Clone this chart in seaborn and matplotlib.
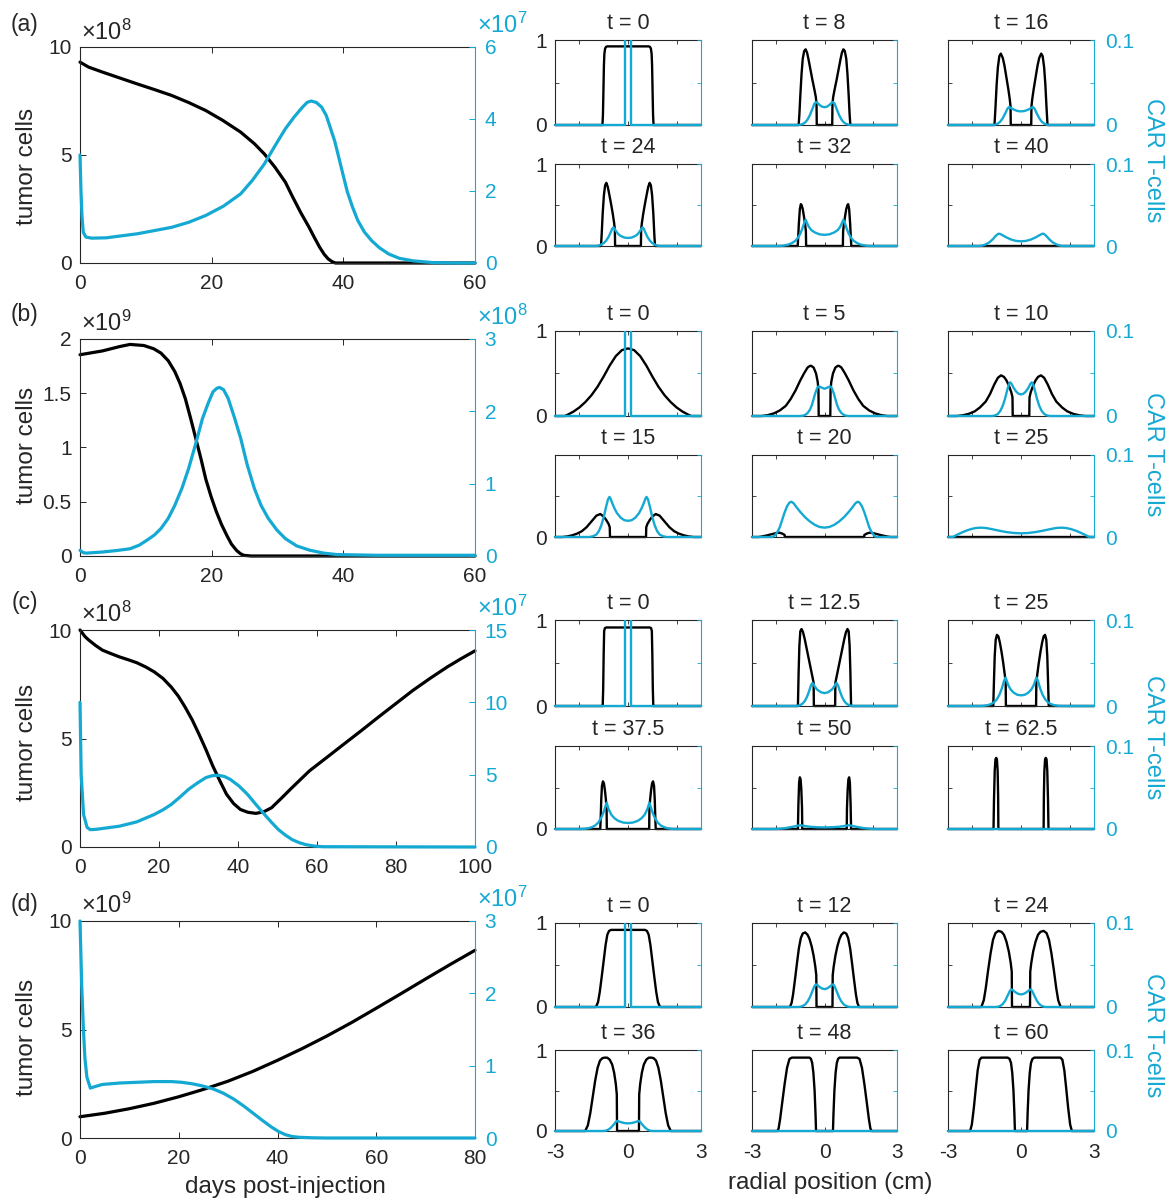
import seaborn as sns
import matplotlib
matplotlib.use('Agg')
import matplotlib.pyplot as plt
from matplotlib.transforms import Bbox, TransformedBbox

# ---------------- left column: totals over time (values in axis units) ----------------
# (a)  tumor x1e8, CAR T x1e7
days_tumor_a = [0, 1.3, 3.4, 6, 8.6, 11.2, 13.9, 16.5, 19.1, 21.7, 24.4, 26.5, 28, 29.6, 31.2, 32.2, 33.5, 34.8,
                35.6, 36.4, 37.1, 37.7, 38.3, 38.8, 60]
tumor_a = [9.30, 9.07, 8.84, 8.57, 8.30, 8.04, 7.76, 7.43, 7.06, 6.60, 6.06, 5.52, 5.05, 4.44, 3.74, 3.12, 2.35,
           1.65, 1.18, 0.73, 0.40, 0.19, 0.06, 0, 0]
days_car_a = [0, 0.15, 0.3, 0.5, 0.9, 1.8, 4, 8.65, 13.9, 16.5, 19.1, 21.8, 24.4, 26.2, 28.0, 29.6, 31.2, 32.5,
              33.8, 34.5, 35.1, 35.9, 36.7, 37.4, 38.0, 38.7, 39.3, 40.0, 40.6, 41.4, 42.2, 43.2, 44.3, 45.5,
              46.9, 48.5, 50.6, 53.7, 57, 60]
car_a = [3.0, 2.0, 1.3, 0.85, 0.72, 0.69, 0.7, 0.81, 0.99, 1.13, 1.32, 1.58, 1.92, 2.3, 2.75, 3.25, 3.73, 4.05,
         4.33, 4.46, 4.50, 4.46, 4.33, 4.1, 3.77, 3.38, 2.94, 2.42, 1.98, 1.55, 1.18, 0.86, 0.62, 0.42,
         0.25, 0.13, 0.06, 0.01, 0, 0]

# (b)  tumor x1e9, CAR T x1e8
days_tumor_b = [0, 3.4, 6, 7.6, 9.7, 11.2, 12.3, 13.4, 14.4, 15.2, 16, 16.8, 17.6, 18.4, 19.1, 19.9, 20.7, 21.5,
                22.3, 23.0, 23.8, 24.4, 24.9, 26, 60]
tumor_b = [1.855, 1.89, 1.93, 1.95, 1.94, 1.91, 1.87, 1.80, 1.70, 1.59, 1.45, 1.27, 1.08, 0.89, 0.71, 0.55, 0.41,
           0.29, 0.19, 0.11, 0.05, 0.02, 0.006, 0, 0]
days_car_b = [0, 0.5, 1, 3.4, 5.5, 7.6, 9, 10.2, 11.3, 12.3, 13.4, 14.4, 15.5, 16.5, 17.6, 18.6, 19.5, 20.2, 20.8,
              21.2, 21.8, 22.5, 23.4, 24.4, 25.4, 26.5, 27.5, 28.6, 29.9, 31.2, 32.9, 34.9, 37, 39, 45, 60]
car_b = [0.079, 0.045, 0.04, 0.055, 0.075, 0.10, 0.15, 0.22, 0.29, 0.38, 0.52, 0.70, 0.94, 1.21, 1.56, 1.90, 2.12,
         2.27, 2.32, 2.33, 2.3, 2.18, 1.93, 1.63, 1.26, 0.93, 0.70, 0.52, 0.36, 0.24, 0.14, 0.08, 0.04, 0.02,
         0.01, 0.01]

# (c)  tumor x1e8, CAR T x1e7
days_tumor_c = [0, 1.3, 2.2, 4, 5.7, 8, 10, 12.2, 14.4, 16.6, 18.8, 21, 23.1, 24.9, 26.6, 28.4, 30.1, 31.9, 33.6,
                35.4, 37.1, 38.9, 40.6, 42.5, 44.5, 46.5, 48.5, 51, 53.7, 58.1, 62.5, 66.8, 71.2, 75.5, 79.9,
                84.3, 88.7, 93, 96.5, 100]
tumor_c = [10.0, 9.69, 9.54, 9.28, 9.07, 8.9, 8.76, 8.63, 8.49, 8.3, 8.07, 7.77, 7.37, 6.95, 6.45, 5.86, 5.21,
           4.48, 3.74, 3.05, 2.43, 2.0, 1.73, 1.6, 1.55, 1.62, 1.81, 2.25, 2.74, 3.51, 4.13, 4.74, 5.36, 5.98,
           6.6, 7.22, 7.78, 8.30, 8.68, 9.04]
days_car_c = [0, 0.3, 0.9, 1.8, 2.6, 4, 5.7, 10, 14.4, 18.8, 21, 23.1, 25.3, 27.5, 29.7, 31.9, 33.4, 34.9, 36.5,
              38, 40.2, 42.4, 44.5, 46.7, 48.5, 50.2, 52, 53.7, 55.5, 57.2, 59.4, 61.6, 100]
car_c = [10.0, 5.0, 2.25, 1.35, 1.2, 1.22, 1.28, 1.44, 1.74, 2.25, 2.57, 2.94, 3.45, 3.99, 4.42, 4.80, 4.92,
         4.96, 4.88, 4.68, 4.23, 3.64, 2.95, 2.25, 1.7, 1.21, 0.82, 0.51, 0.3, 0.16, 0.06, 0.02, 0]

# (d)  tumor x1e9, CAR T x1e7
days_tumor_d = [0, 5, 10, 15, 20, 25, 30, 35, 40, 45, 50, 55, 60, 65, 70, 75, 80]
tumor_d = [0.98, 1.14, 1.35, 1.6, 1.9, 2.24, 2.62, 3.07, 3.58, 4.12, 4.7, 5.32, 5.98, 6.65, 7.33, 8.0, 8.65]
days_car_d = [0, 0.35, 0.7, 1.0, 1.4, 2.1, 3, 4.5, 8, 11.5, 15, 18.5, 20.6, 22.7, 24.8, 26.9, 29, 31.1, 33.2,
              35.3, 37, 38.8, 40.2, 41.6, 43, 44.4, 47, 50, 80]
car_d = [3.0, 2.1, 1.49, 1.1, 0.84, 0.69, 0.71, 0.74, 0.76, 0.77, 0.78, 0.78, 0.77, 0.75, 0.72, 0.68, 0.62, 0.54,
         0.44, 0.33, 0.24, 0.15, 0.09, 0.046, 0.02, 0.01, 0.003, 0, 0]

left_ticks = [[0, 5, 10], [0, 0.5, 1, 1.5, 2], [0, 5, 10], [0, 5, 10]]
right_ticks = [[0, 2, 4, 6], [0, 1, 2, 3], [0, 5, 10, 15], [0, 1, 2, 3]]
left_exp = [8, 9, 8, 9]
right_exp = [7, 8, 7, 7]
day_max = [60, 60, 100, 80]

# ---------------- right block: radial profiles, half profiles r >= 0 (symmetric) ----------------
times_a = ['0', '8', '16', '24', '32', '40']
tumor_r_a = [[0, 0.85, 0.9, 0.94, 0.97, 0.99, 1.01, 1.03, 1.05, 3],
             [0, 0.32, 0.33, 0.36, 0.42, 0.5, 0.58, 0.66, 0.72, 0.78, 0.84, 0.9, 0.95, 1.0, 1.04, 1.07, 3],
             [0, 0.42, 0.43, 0.46, 0.52, 0.6, 0.68, 0.75, 0.83, 0.89, 0.95, 1.0, 1.05, 1.09, 3],
             [0, 0.53, 0.54, 0.57, 0.63, 0.7, 0.77, 0.83, 0.89, 0.94, 0.99, 1.04, 1.08, 1.11, 3],
             [0, 0.76, 0.77, 0.8, 0.85, 0.9, 0.95, 0.98, 1.02, 1.06, 1.09, 1.11, 3],
             [0, 3]]
tumor_v_a = [[0.925, 0.925, 0.92, 0.9, 0.84, 0.7, 0.4, 0.12, 0, 0],
             [0, 0, 0.25, 0.33, 0.42, 0.53, 0.65, 0.77, 0.85, 0.89, 0.87, 0.78, 0.6, 0.35, 0.12, 0, 0],
             [0, 0, 0.22, 0.3, 0.42, 0.56, 0.7, 0.79, 0.84, 0.81, 0.68, 0.48, 0.2, 0, 0],
             [0, 0, 0.2, 0.28, 0.4, 0.52, 0.63, 0.72, 0.77, 0.74, 0.62, 0.4, 0.15, 0, 0],
             [0, 0, 0.18, 0.26, 0.36, 0.45, 0.5, 0.51, 0.45, 0.28, 0.1, 0, 0],
             [0, 0]]
car_r_a = [[0, 0.11, 0.11, 3],
           [0, 0.1, 0.2, 0.3, 0.36, 0.42, 0.5, 0.6, 0.7, 0.8, 0.9, 1.0, 1.1, 3],
           [0, 0.15, 0.3, 0.4, 0.46, 0.5, 0.56, 0.65, 0.75, 0.85, 0.95, 1.05, 1.15, 3],
           [0, 0.15, 0.3, 0.4, 0.5, 0.56, 0.6, 0.65, 0.72, 0.8, 0.9, 1.0, 1.1, 1.2, 1.3, 3],
           [0, 0.2, 0.4, 0.55, 0.65, 0.72, 0.78, 0.84, 0.92, 1.0, 1.1, 1.2, 1.35, 1.5, 1.7, 1.85, 3],
           [0, 0.2, 0.4, 0.6, 0.75, 0.85, 0.9, 0.95, 1.05, 1.15, 1.3, 1.45, 1.6, 1.7, 3]]
car_v_a = [[1, 1, 0, 0],
           [0.021, 0.0215, 0.0235, 0.0262, 0.027, 0.025, 0.019, 0.012, 0.0065, 0.003, 0.0012, 0.0004, 0, 0],
           [0.016, 0.0165, 0.0182, 0.0198, 0.0208, 0.021, 0.019, 0.0135, 0.008, 0.004, 0.0017, 0.0005, 0, 0],
           [0.0098, 0.0103, 0.0122, 0.0145, 0.0185, 0.0215, 0.0226, 0.021, 0.016, 0.011, 0.0065, 0.0035, 0.0017,
            0.0006, 0, 0],
           [0.0136, 0.0142, 0.0165, 0.0195, 0.0235, 0.028, 0.032, 0.028, 0.021, 0.015, 0.01, 0.0065, 0.0035,
            0.0017, 0.0005, 0, 0],
           [0.0057, 0.0062, 0.0078, 0.0105, 0.013, 0.0146, 0.015, 0.0146, 0.012, 0.0085, 0.0045, 0.002, 0.0005,
            0, 0]]

times_b = ['0', '5', '10', '15', '20', '25']
tumor_r_b = [[0, 0.25, 0.5, 0.75, 1.0, 1.25, 1.5, 1.75, 2.0, 2.25, 2.5, 2.6, 3],
             [0, 0.24, 0.25, 0.28, 0.35, 0.45, 0.55, 0.6, 0.7, 0.85, 1.0, 1.2, 1.4, 1.6, 1.85, 2.1, 2.35, 2.6, 3],
             [0, 0.34, 0.35, 0.4, 0.5, 0.6, 0.7, 0.82, 0.95, 1.1, 1.27, 1.45, 1.69, 1.9, 2.15, 2.4, 2.65, 3],
             [0, 0.74, 0.75, 0.8, 0.9, 1.0, 1.14, 1.3, 1.5, 1.7, 1.9, 2.1, 2.3, 2.5, 2.7, 3],
             [0, 1.64, 1.65, 1.75, 1.87, 2.0, 2.2, 2.4, 2.6, 2.73, 3],
             [0, 3]]
tumor_v_b = [[0.795, 0.775, 0.705, 0.595, 0.465, 0.345, 0.245, 0.165, 0.1, 0.05, 0.012, 0, 0],
             [0, 0, 0.3, 0.4, 0.5, 0.57, 0.59, 0.59, 0.57, 0.5, 0.42, 0.3, 0.2, 0.12, 0.065, 0.03, 0.01, 0, 0],
             [0, 0, 0.22, 0.28, 0.36, 0.42, 0.46, 0.478, 0.45, 0.37, 0.26, 0.17, 0.1, 0.055, 0.025, 0.008, 0, 0],
             [0, 0, 0.12, 0.16, 0.21, 0.25, 0.28, 0.26, 0.19, 0.12, 0.07, 0.04, 0.02, 0.007, 0, 0],
             [0, 0, 0.025, 0.042, 0.053, 0.048, 0.033, 0.018, 0.006, 0, 0],
             [0, 0]]
car_r_b = [[0, 0.11, 0.11, 3],
           [0, 0.1, 0.2, 0.25, 0.3, 0.38, 0.45, 0.52, 0.6, 0.7, 0.8, 0.9, 1.0, 3],
           [0, 0.1, 0.2, 0.3, 0.38, 0.44, 0.5, 0.58, 0.66, 0.75, 0.85, 0.95, 1.05, 1.18, 3],
           [0, 0.15, 0.3, 0.45, 0.55, 0.65, 0.72, 0.76, 0.82, 0.9, 1.0, 1.1, 1.2, 1.3, 1.45, 1.6, 3],
           [0, 0.2, 0.4, 0.6, 0.8, 1.0, 1.15, 1.28, 1.37, 1.45, 1.55, 1.65, 1.75, 1.85, 1.95, 2.05, 2.15, 3],
           [0, 0.3, 0.6, 0.9, 1.2, 1.45, 1.65, 1.85, 2.05, 2.25, 2.45, 2.65, 2.8, 3]]
car_v_b = [[1, 1, 0, 0],
           [0.032, 0.0332, 0.0345, 0.0347, 0.033, 0.027, 0.02, 0.013, 0.0075, 0.0035, 0.0013, 0.0003, 0, 0],
           [0.0254, 0.0262, 0.0288, 0.033, 0.0375, 0.0396, 0.037, 0.029, 0.02, 0.012, 0.006, 0.0025, 0.0008, 0, 0],
           [0.0197, 0.0205, 0.0235, 0.029, 0.0345, 0.0415, 0.047, 0.0489, 0.046, 0.037, 0.024, 0.014, 0.007,
            0.003, 0.0008, 0, 0],
           [0.0114, 0.0122, 0.0148, 0.0188, 0.024, 0.0305, 0.036, 0.0412, 0.043, 0.042, 0.0375, 0.03, 0.021,
            0.012, 0.006, 0.002, 0, 0],
           [0.0045, 0.0049, 0.006, 0.0077, 0.0096, 0.011, 0.0114, 0.011, 0.0097, 0.0077, 0.0052, 0.0024, 0, 0]]

times_c = ['0', '12.5', '25', '37.5', '50', '62.5']
tumor_r_c = [[0, 0.9, 0.95, 0.98, 1.0, 1.02, 1.04, 3],
             [0, 0.44, 0.45, 0.5, 0.58, 0.66, 0.74, 0.82, 0.89, 0.95, 1.0, 1.04, 1.07, 1.1, 3],
             [0, 0.62, 0.63, 0.67, 0.73, 0.8, 0.87, 0.93, 0.99, 1.04, 1.08, 1.11, 1.14, 3],
             [0, 0.87, 0.88, 0.91, 0.95, 0.99, 1.03, 1.07, 1.1, 1.12, 1.14, 3],
             [0, 0.92, 0.93, 0.96, 0.99, 1.02, 1.05, 1.08, 1.1, 3],
             [0, 0.93, 0.94, 0.96, 0.99, 1.02, 1.05, 1.08, 1.11, 1.13, 3]]
tumor_v_c = [[0.913, 0.913, 0.905, 0.87, 0.6, 0.2, 0, 0],
             [0, 0, 0.27, 0.34, 0.45, 0.56, 0.67, 0.78, 0.86, 0.895, 0.87, 0.7, 0.4, 0, 0],
             [0, 0, 0.28, 0.37, 0.5, 0.63, 0.74, 0.81, 0.827, 0.77, 0.58, 0.3, 0, 0],
             [0, 0, 0.25, 0.36, 0.47, 0.55, 0.574, 0.52, 0.35, 0.15, 0, 0],
             [0, 0, 0.25, 0.48, 0.6, 0.623, 0.56, 0.3, 0, 0],
             [0, 0, 0.4, 0.7, 0.84, 0.857, 0.84, 0.7, 0.35, 0, 0]]
car_r_c = [[0, 0.11, 0.11, 3],
           [0, 0.15, 0.3, 0.4, 0.46, 0.5, 0.56, 0.64, 0.72, 0.82, 0.92, 1.02, 1.1, 1.18, 3],
           [0, 0.15, 0.3, 0.42, 0.52, 0.6, 0.64, 0.7, 0.78, 0.88, 1.0, 1.12, 1.25, 1.4, 1.55, 1.7, 3],
           [0, 0.2, 0.4, 0.55, 0.68, 0.78, 0.84, 0.88, 0.93, 1.0, 1.1, 1.22, 1.35, 1.5, 1.65, 1.8, 1.95, 3],
           [0, 0.3, 0.6, 0.8, 0.93, 1.0, 1.08, 1.2, 1.4, 1.6, 1.8, 2.0, 2.2, 3],
           [0, 3]]
car_v_c = [[1, 1, 0, 0],
           [0.015, 0.016, 0.019, 0.0225, 0.0255, 0.0267, 0.024, 0.017, 0.011, 0.0055, 0.0025, 0.0009, 0.0003, 0, 0],
           [0.0124, 0.013, 0.0155, 0.019, 0.024, 0.0305, 0.033, 0.029, 0.021, 0.0135, 0.0075, 0.004, 0.002,
            0.0008, 0.0002, 0, 0],
           [0.0072, 0.0078, 0.0098, 0.0128, 0.017, 0.0228, 0.028, 0.0317, 0.027, 0.0205, 0.0135, 0.0078, 0.0042,
            0.002, 0.0008, 0.0002, 0, 0],
           [0.0019, 0.0021, 0.0027, 0.0035, 0.0042, 0.0045, 0.0042, 0.0034, 0.0022, 0.0012, 0.0005, 0.0001, 0, 0],
           [0, 0]]

times_d = ['0', '12', '24', '36', '48', '60']
tumor_r_d = [[0, 0.7, 0.78, 0.85, 0.92, 1.0, 1.08, 1.16, 1.23, 1.3, 1.34, 3],
             [0, 0.33, 0.34, 0.38, 0.45, 0.53, 0.62, 0.7, 0.8, 0.9, 0.98, 1.06, 1.14, 1.22, 1.3, 1.36, 1.43, 3],
             [0, 0.37, 0.38, 0.42, 0.5, 0.6, 0.7, 0.8, 0.93, 1.05, 1.15, 1.25, 1.35, 1.45, 1.53, 1.63, 3],
             [0, 0.45, 0.46, 0.5, 0.57, 0.65, 0.75, 0.85, 0.95, 1.05, 1.15, 1.25, 1.35, 1.45, 1.55, 1.65, 1.76, 3],
             [0, 0.35, 0.37, 0.41, 0.46, 0.51, 0.56, 0.62, 1.35, 1.45, 1.55, 1.65, 1.75, 1.84, 1.9, 1.95, 3],
             [0, 0.25, 0.27, 0.31, 0.36, 0.41, 0.47, 0.55, 1.62, 1.7, 1.78, 1.86, 1.94, 2.02, 2.09, 3]]
tumor_v_d = [[0.918, 0.918, 0.905, 0.86, 0.74, 0.55, 0.36, 0.18, 0.06, 0.01, 0, 0],
             [0, 0, 0.38, 0.48, 0.61, 0.72, 0.81, 0.86, 0.888, 0.875, 0.82, 0.7, 0.52, 0.33, 0.15, 0.05, 0, 0],
             [0, 0, 0.42, 0.52, 0.66, 0.78, 0.86, 0.895, 0.906, 0.88, 0.8, 0.64, 0.44, 0.22, 0.08, 0, 0],
             [0, 0, 0.45, 0.58, 0.72, 0.82, 0.88, 0.905, 0.906, 0.9, 0.87, 0.78, 0.62, 0.42, 0.22, 0.07, 0, 0],
             [0, 0, 0.2, 0.5, 0.72, 0.84, 0.89, 0.906, 0.906, 0.89, 0.78, 0.58, 0.35, 0.14, 0.03, 0, 0],
             [0, 0, 0.2, 0.5, 0.72, 0.84, 0.89, 0.906, 0.906, 0.88, 0.75, 0.52, 0.28, 0.08, 0, 0]]
car_r_d = [[0, 0.11, 0.11, 3],
           [0, 0.1, 0.2, 0.3, 0.36, 0.42, 0.5, 0.6, 0.7, 0.8, 0.9, 1.0, 1.08, 3],
           [0, 0.1, 0.2, 0.3, 0.36, 0.4, 0.46, 0.55, 0.65, 0.75, 0.85, 0.95, 1.03, 3],
           [0, 0.15, 0.3, 0.4, 0.44, 0.5, 0.6, 0.7, 0.8, 0.9, 1.01, 3],
           [0, 3],
           [0, 3]]
car_v_d = [[1, 1, 0, 0],
           [0.0213, 0.022, 0.0238, 0.0262, 0.027, 0.0245, 0.019, 0.0118, 0.0065, 0.003, 0.0012, 0.0003, 0, 0],
           [0.015, 0.0155, 0.017, 0.0192, 0.0205, 0.021, 0.019, 0.0135, 0.0075, 0.0035, 0.0013, 0.0003, 0, 0],
           [0.0094, 0.0098, 0.011, 0.0121, 0.0125, 0.0112, 0.0075, 0.0042, 0.0018, 0.0005, 0, 0],
           [0, 0],
           [0, 0]]

# ---------------- style & layout ----------------
CYAN = '#14A9D3'
EDGE = '#262626'
W, H = 1176, 1203

sns.set_theme(style='ticks')
plt.rcParams['font.family'] = ['Liberation Sans', 'DejaVu Sans']
plt.rcParams.update({'mathtext.fontset': 'custom', 'mathtext.rm': 'Liberation Sans',
                     'mathtext.it': 'Liberation Sans:italic', 'mathtext.bf': 'Liberation Sans:bold',
                     'axes.linewidth': 0.8})

fig = plt.figure(figsize=(W / 100, H / 100), dpi=100)


def box(x0, x1, y0, y1):
    # pixel box (top-left origin) -> figure fraction rect
    return [x0 / W, 1 - y1 / H, (x1 - x0) / W, (y1 - y0) / H]


def mirror(r, v):
    return [-x for x in r[:0:-1]] + list(r), list(v[:0:-1]) + list(v)


big_rows = [(47, 263), (339, 556), (630, 847), (921, 1138)]
letter_y = [25, 315, 603, 905]
ylabel_y = [166, 445, 742, 1037]
car_label_y = [160, 454, 737, 1035]
small_cols = [(555, 701), (752, 897), (948, 1094)]
small_rows = [[(40, 125), (164, 246)], [(331, 416), (455, 537)],
              [(620, 706), (746, 829)], [(923, 1007), (1050, 1131)]]
top_left_label = [['1', '1'], ['1', ''], ['1', ''], ['1', '1']]

big_data = [(days_tumor_a, tumor_a, days_car_a, car_a), (days_tumor_b, tumor_b, days_car_b, car_b),
            (days_tumor_c, tumor_c, days_car_c, car_c), (days_tumor_d, tumor_d, days_car_d, car_d)]
small_data = [(times_a, tumor_r_a, tumor_v_a, car_r_a, car_v_a), (times_b, tumor_r_b, tumor_v_b, car_r_b, car_v_b),
              (times_c, tumor_r_c, tumor_v_c, car_r_c, car_v_c), (times_d, tumor_r_d, tumor_v_d, car_r_d, car_v_d)]

for k in range(4):
    # ---- big time-course panel ----
    dt, tum, dc, car = big_data[k]
    ax = fig.add_axes(box(80, 475, *big_rows[k]))
    sns.lineplot(x=dt, y=tum, ax=ax, color='black', linewidth=2.3, estimator=None, sort=False, clip_on=False)
    ax.set(xlim=(0, day_max[k]), ylim=(0, left_ticks[k][-1]), xlabel='', ylabel='')
    ax.set_xticks(list(range(0, day_max[k] + 1, 20)))
    ax.set_yticks(left_ticks[k])
    ax.set_yticklabels([f'{v:g}' for v in left_ticks[k]])
    ax.tick_params(axis='x', direction='in', top=True, bottom=True, length=4, width=0.7,
                   labelsize=15, pad=8, color=EDGE)
    ax.tick_params(axis='y', direction='in', left=True, right=False, length=4, width=0.7,
                   labelsize=15, pad=6, color=EDGE)
    for s in ['left', 'top', 'bottom']:
        ax.spines[s].set_color(EDGE)
    ax.spines['right'].set_visible(False)
    ax.text(0.003, 1.012, '×10$^{%d}$' % left_exp[k], transform=ax.transAxes, ha='left', va='bottom',
            fontsize=17)

    ax2 = ax.twinx()
    sns.lineplot(x=dc, y=car, ax=ax2, color=CYAN, linewidth=2.3, estimator=None, sort=False, clip_on=False)
    ax2.set(ylim=(0, right_ticks[k][-1]), xlabel='', ylabel='')
    ax2.set_yticks(right_ticks[k])
    ax2.set_yticklabels([f'{v:g}' for v in right_ticks[k]])
    ax2.tick_params(axis='y', direction='in', length=4, width=0.7, labelsize=15, pad=7,
                    color=CYAN, labelcolor=CYAN)
    for s in ['left', 'top', 'bottom']:
        ax2.spines[s].set_visible(False)
    ax2.spines['right'].set_color(CYAN)
    ax2.text(1.005, 1.04, '×10$^{%d}$' % right_exp[k], transform=ax2.transAxes, ha='left', va='bottom',
             fontsize=17, color=CYAN)

    fig.text(25 / W, 1 - letter_y[k] / H, '(' + 'abcd'[k] + ')', fontsize=16.5, ha='center', va='center')
    fig.text(27 / W, 1 - ylabel_y[k] / H, 'tumor cells', fontsize=17.5, rotation=90, ha='center', va='center')
    fig.text(1153 / W, 1 - car_label_y[k] / H, 'CAR T-cells', fontsize=17, rotation=270, ha='center',
             va='center', color=CYAN)

    # ---- radial profile panels ----
    times, tr_list, tv_list, cr_list, cv_list = small_data[k]
    for j in range(6):
        row, col = divmod(j, 3)
        (x0, x1), (y0, y1) = small_cols[col], small_rows[k][row]
        bottom = (k == 3 and row == 1)
        sa = fig.add_axes(box(x0, x1, y0, y1))
        xr, yv = mirror(tr_list[j], tv_list[j])
        sns.lineplot(x=xr, y=yv, ax=sa, color='black', linewidth=1.7, estimator=None, sort=False, clip_on=False)
        sa.set(xlim=(-3, 3), ylim=(0, 1), xlabel='', ylabel='')
        sa.set_title(f't = {times[j]}', fontsize=15.5, pad=8)
        if bottom:
            sa.set_xticks([-3, 0, 3])
            sa.set_xticklabels(['-3', '0', '3'])
        else:
            sa.set_xticks([-2, 0, 2])
            sa.set_xticklabels([])
        sa.set_yticks([0, 0.5, 1])
        sa.set_yticklabels(['0', '', top_left_label[k][row]] if col == 0 else [])
        sa.tick_params(axis='x', direction='in', top=True, bottom=True, length=3, width=0.6,
                       labelsize=15, pad=9, color=EDGE)
        sa.tick_params(axis='y', direction='in', left=True, right=False, length=3, width=0.6,
                       labelsize=15, pad=6, color=EDGE)
        for s in ['left', 'top', 'bottom']:
            sa.spines[s].set_color(EDGE)
        sa.spines['right'].set_visible(False)

        sb = sa.twinx()
        xr, yv = mirror(cr_list[j], cv_list[j])
        sns.lineplot(x=xr, y=yv, ax=sb, color=CYAN, linewidth=1.7, estimator=None, sort=False)
        ln = sb.lines[-1]
        ln.set_clip_path(None)
        ln.set_clip_box(TransformedBbox(Bbox([[-0.02, -0.05], [1.02, 1.0]]), sb.transAxes))
        sb.set(ylim=(0, 0.1), xlabel='', ylabel='')
        sb.set_yticks([0, 0.05, 0.1])
        sb.set_yticklabels(['0', '', '0.1'] if col == 2 else [])
        sb.tick_params(axis='y', direction='in', length=3, width=0.6, labelsize=15, pad=8,
                       color=CYAN, labelcolor=CYAN)
        for s in ['left', 'top', 'bottom']:
            sb.spines[s].set_visible(False)
        sb.spines['right'].set_color(CYAN)

fig.text(285 / W, 1 - 1187 / H, 'days post-injection', fontsize=17.5, ha='center', va='center')
fig.text(830 / W, 1 - 1183 / H, 'radial position (cm)', fontsize=17.5, ha='center', va='center')

fig.savefig('out.png', dpi=100)
